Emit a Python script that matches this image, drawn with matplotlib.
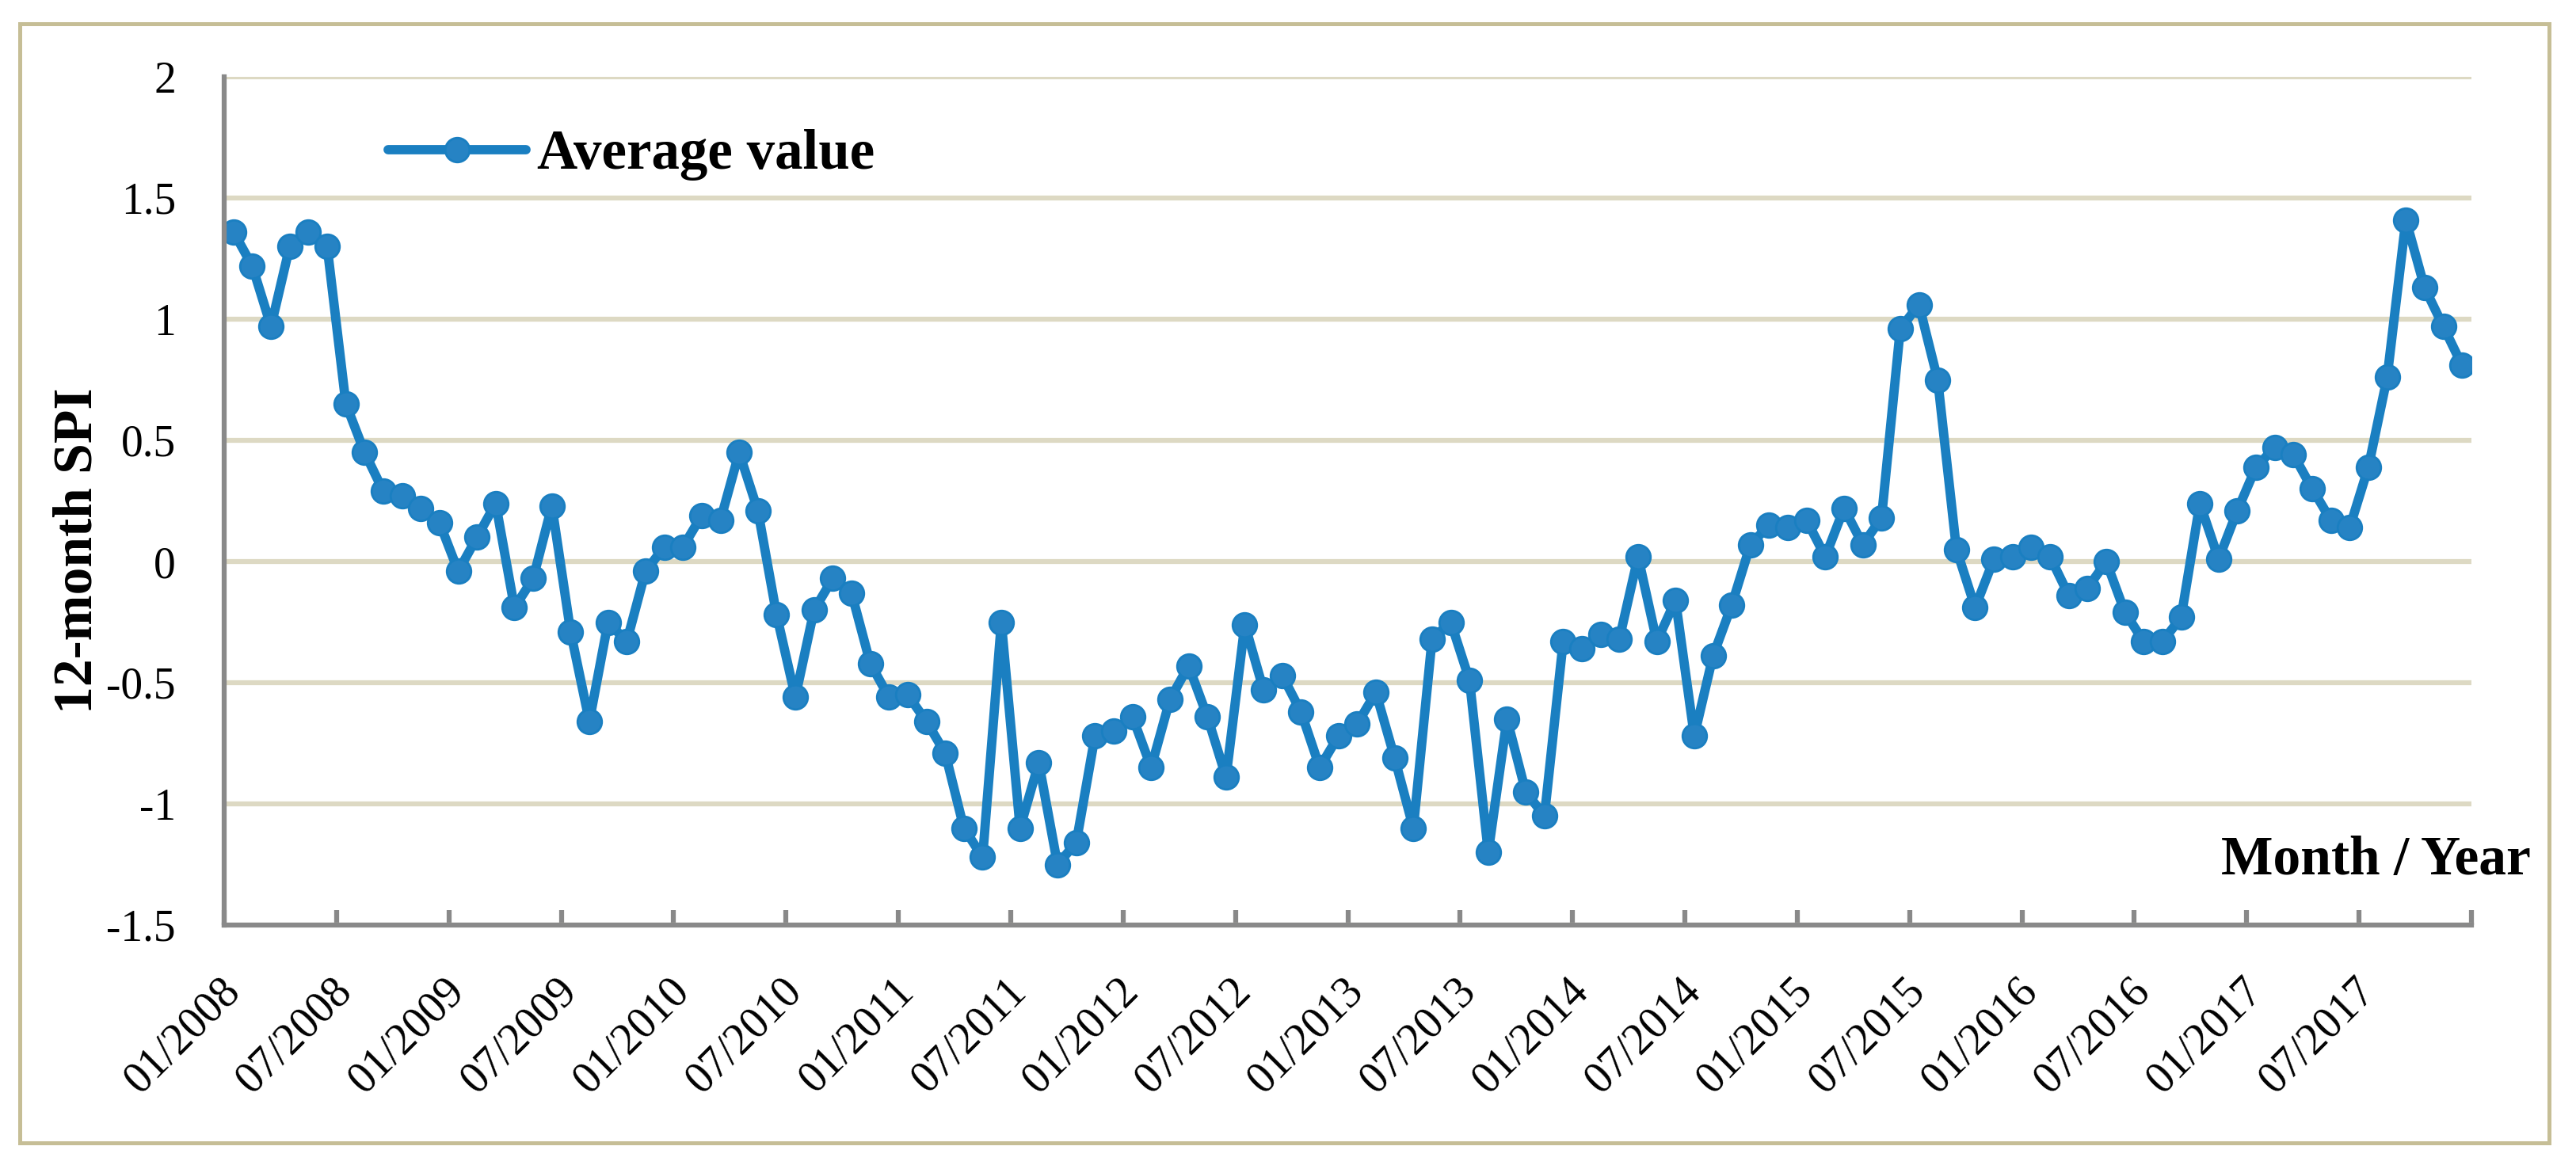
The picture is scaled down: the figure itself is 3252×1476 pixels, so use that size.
import matplotlib
matplotlib.use("Agg")
import matplotlib.pyplot as plt
from matplotlib.patches import Rectangle

plt.rcParams['font.family'] = ['Liberation Serif', 'DejaVu Serif']

# ---- data: 12-month SPI, monthly 01/2008 .. 12/2017 ----
spi_2008 = [1.36, 1.22, 0.97, 1.30, 1.36, 1.30, 0.65, 0.45, 0.29, 0.27, 0.22, 0.16]
spi_2009 = [-0.04, 0.10, 0.24, -0.19, -0.07, 0.23, -0.29, -0.66, -0.25, -0.33, -0.04, 0.06]
spi_2010 = [0.06, 0.19, 0.17, 0.45, 0.21, -0.22, -0.56, -0.20, -0.07, -0.13, -0.42, -0.56]
spi_2011 = [-0.55, -0.66, -0.79, -1.10, -1.22, -0.25, -1.10, -0.83, -1.25, -1.16, -0.72, -0.70]
spi_2012 = [-0.64, -0.85, -0.57, -0.43, -0.64, -0.89, -0.26, -0.53, -0.47, -0.62, -0.85, -0.72]
spi_2013 = [-0.67, -0.54, -0.81, -1.10, -0.32, -0.25, -0.49, -1.20, -0.65, -0.95, -1.05, -0.33]
spi_2014 = [-0.36, -0.30, -0.32, 0.02, -0.33, -0.16, -0.72, -0.39, -0.18, 0.07, 0.15, 0.14]
spi_2015 = [0.17, 0.02, 0.22, 0.07, 0.18, 0.96, 1.06, 0.75, 0.05, -0.19, 0.01, 0.02]
spi_2016 = [0.06, 0.02, -0.14, -0.11, 0.00, -0.21, -0.33, -0.33, -0.23, 0.24, 0.01, 0.21]
spi_2017 = [0.39, 0.47, 0.44, 0.30, 0.17, 0.14, 0.39, 0.76, 1.41, 1.13, 0.97, 0.81]

spi = (spi_2008 + spi_2009 + spi_2010 + spi_2011 + spi_2012 +
       spi_2013 + spi_2014 + spi_2015 + spi_2016 + spi_2017)

tick_labels = ["01/2008", "07/2008", "01/2009", "07/2009", "01/2010", "07/2010",
               "01/2011", "07/2011", "01/2012", "07/2012", "01/2013", "07/2013",
               "01/2014", "07/2014", "01/2015", "07/2015", "01/2016", "07/2016",
               "01/2017", "07/2017"]
series_name = "Average value"

W, H = 3252, 1476
fig = plt.figure(figsize=(W / 100, H / 100), dpi=100)
fig.patch.set_facecolor('white')

ax = fig.add_axes([283 / W, 1 - 1168 / H, (3120 - 283) / W, (1168 - 97) / H])

x = list(range(len(spi)))
line_color = '#1A7FC1'
ax.plot(x, spi, color=line_color, lw=8.5, marker='o', markersize=22,
        markerfacecolor='#2683C4', markeredgecolor=line_color, markeredgewidth=2,
        solid_joinstyle='round', solid_capstyle='round', label=series_name, zorder=3)

ax.set_xlim(-0.5, len(spi) - 0.5)
ax.set_ylim(-1.5, 2.0)
ax.set_yticks([-1.5, -1, -0.5, 0, 0.5, 1, 1.5, 2])
ax.set_yticklabels(['-1.5', '-1', '-0.5', '0', '0.5', '1', '1.5', '2'])

# major ticks at category boundaries, labels at category centres
ax.set_xticks([-0.5 + 6 * k for k in range(21)])
ax.set_xticklabels([])
ax.set_xticks([6 * k for k in range(len(tick_labels))], minor=True)
ax.set_xticklabels(tick_labels, minor=True, rotation=45, ha='right', va='center',
                   rotation_mode='anchor')

spine_color = '#898989'
grid_color = '#DDD9C3'
for s in ['top', 'right']:
    ax.spines[s].set_visible(False)
for s in ['left', 'bottom']:
    ax.spines[s].set_color(spine_color)
    ax.spines[s].set_linewidth(4.5)
    ax.spines[s].set_zorder(4)

ax.tick_params(axis='x', which='major', direction='in', length=14, width=4.5,
               color=spine_color)
ax.tick_params(axis='x', which='minor', length=0, pad=54, labelsize=40)
ax.tick_params(axis='y', which='major', direction='in', length=0, pad=44,
               labelsize=40)

ax.yaxis.grid(True, color=grid_color, lw=4.5, zorder=0)
ax.set_axisbelow(True)

leg = ax.legend(loc='center left', bbox_to_anchor=(490 / W, 1 - 196 / H),
                bbox_transform=fig.transFigure, frameon=False, borderpad=0,
                borderaxespad=0, handlelength=2.45, handletextpad=0.2,
                numpoints=1, prop={'weight': 'bold', 'size': 51})

fig.text(98 / W, 1 - 695 / H, '12-month SPI', rotation=90, ha='center', va='center',
         fontsize=50, fontweight='bold')
fig.text(3195 / W, 1 - 1104 / H, 'Month / Year', ha='right', va='baseline',
         fontsize=50, fontweight='bold')

fig.patches.append(Rectangle((25 / W, 1 - 1443 / H), (3218 - 25) / W, (1443 - 30) / H,
                             transform=fig.transFigure, fill=False,
                             edgecolor='#C6BE96', lw=3.6, zorder=10))

fig.savefig('out.png', dpi=100, facecolor='white')
